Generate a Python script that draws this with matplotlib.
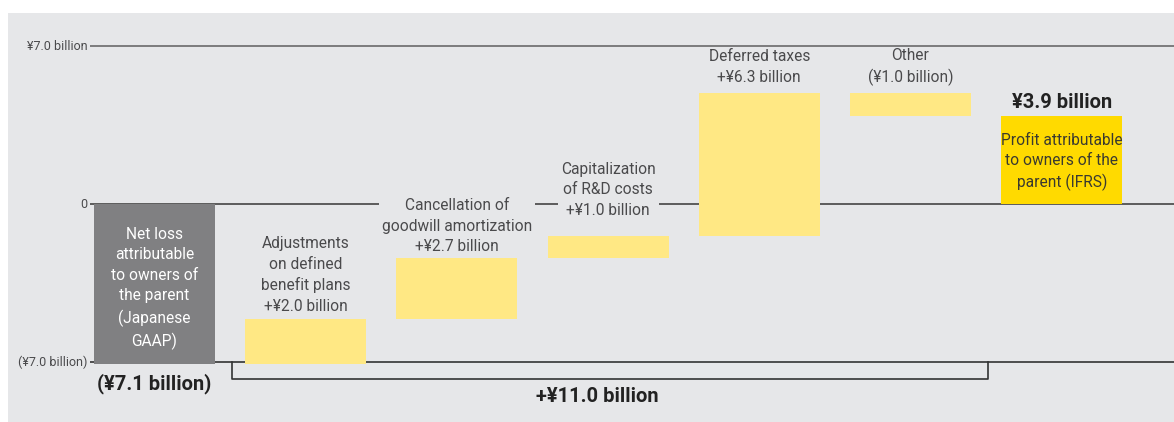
import matplotlib
matplotlib.use("Agg")
import matplotlib.pyplot as plt
from matplotlib.patches import Rectangle

# ---- data ----
categories = [
    "Net loss\nattributable\nto owners of\nthe parent\n(Japanese\nGAAP)",
    "Adjustments\non defined\nbenefit plans\n+¥2.0 billion",
    "Cancellation of\ngoodwill amortization\n+¥2.7 billion",
    "Capitalization\nof R&D costs\n+¥1.0 billion",
    "Deferred taxes\n+¥6.3 billion",
    "Other\n(¥1.0 billion)",
    "Profit attributable\nto owners of the\nparent (IFRS)",
]
changes = [-7.1, 2.0, 2.7, 1.0, 6.3, -1.0]   # start value followed by adjustments
final_value = 3.9
tick_values = [7.0, 0.0, -7.0]
tick_labels = ["¥7.0 billion", "0", "(¥7.0 billion)"]
start_label = "(¥7.1 billion)"
final_label = "¥3.9 billion"
total_adj_label = "+¥11.0 billion"

# ---- styling ----
BG = "#e6e7e9"
GRAY = "#808082"
YELLOW = "#ffe884"
GOLD = "#ffda00"
TXT = "#4a4a4c"
FONT = ["Roboto", "DejaVu Sans"]
plt.rcParams["font.family"] = FONT

W, H = 1174, 422
PX_PER_UNIT = 22.571
Y0_PX = 204.0
X0_PX, X_STEP = 154.5, 151.2


def yv(py):
    return (Y0_PX - py) / PX_PER_UNIT


def xv(px):
    return (px - X0_PX) / X_STEP


fig = plt.figure(figsize=(W / 100, H / 100), dpi=100)
fig.patch.set_facecolor("white")
fig.add_artist(Rectangle((8 / W, 0), 1 - 8 / W, 1 - 13 / H,
                         transform=fig.transFigure, facecolor=BG,
                         edgecolor="none", zorder=0))

ax = fig.add_axes([0, 0, 1, 1])
ax.set_facecolor("none")
ax.set_xlim(xv(0), xv(W))
ax.set_ylim(yv(H), yv(0))
ax.axis("off")

# waterfall geometry
bottoms, heights = [], []
cum = 0.0
for i, c in enumerate(changes):
    if i == 0:
        bottoms.append(min(0, c)); heights.append(abs(c))
        cum = c
    else:
        lo, hi = sorted([cum, cum + c])
        bottoms.append(lo); heights.append(hi - lo)
        cum += c
bottoms.append(0.0); heights.append(final_value)
colors = [GRAY] + [YELLOW] * (len(changes) - 1) + [GOLD]
xs = list(range(len(categories)))
bw = 0.8

# gridlines
x_line_start = xv(90)
for v, col in zip(tick_values, ["#6a6a6a", "#444444", "#333333"]):
    ax.plot([x_line_start, xv(W)], [v, v], color=col, lw=1.2, zorder=1,
            solid_capstyle="butt")
for v, lab in zip(tick_values, tick_labels):
    ax.text(x_line_start - 0.015, v, lab, ha="right", va="center",
            fontsize=9, color=TXT, zorder=3)

ax.bar(xs, heights, bottom=bottoms, width=bw, color=colors, zorder=2,
       edgecolor="none")

# category labels
fs = 11.2
ls = 1.45
label_centers_px = [288.5, 275, 226, 190, 67, 67, 162]
label_colors = ["white", TXT, TXT, TXT, TXT, TXT, "#3a3a30"]
for i, cat in enumerate(categories):
    kw = {}
    if i in (2, 3):
        kw["bbox"] = dict(boxstyle="square,pad=0.2", facecolor=BG, edgecolor="none")
    ax.text(xs[i], yv(label_centers_px[i]), cat, ha="center", va="center",
            fontsize=fs, color=label_colors[i], linespacing=ls, zorder=4, **kw)

bold_kw = dict(ha="center", va="center", fontsize=14.5, fontweight="bold",
               color="#222222", zorder=4)
ax.text(xs[0], yv(384), start_label, **bold_kw)
ax.text(xs[6], yv(102), final_label, **bold_kw)

# bracket for total adjustments
bx0, bx1 = xv(232), xv(988)
by = yv(379)
ax.plot([bx0, bx0, bx1, bx1], [-7.0, by, by, -7.0], color="#333333", lw=1.2,
        zorder=1)
ax.text(xv(597), yv(396), total_adj_label, **bold_kw)

fig.savefig("out.png", dpi=100)
